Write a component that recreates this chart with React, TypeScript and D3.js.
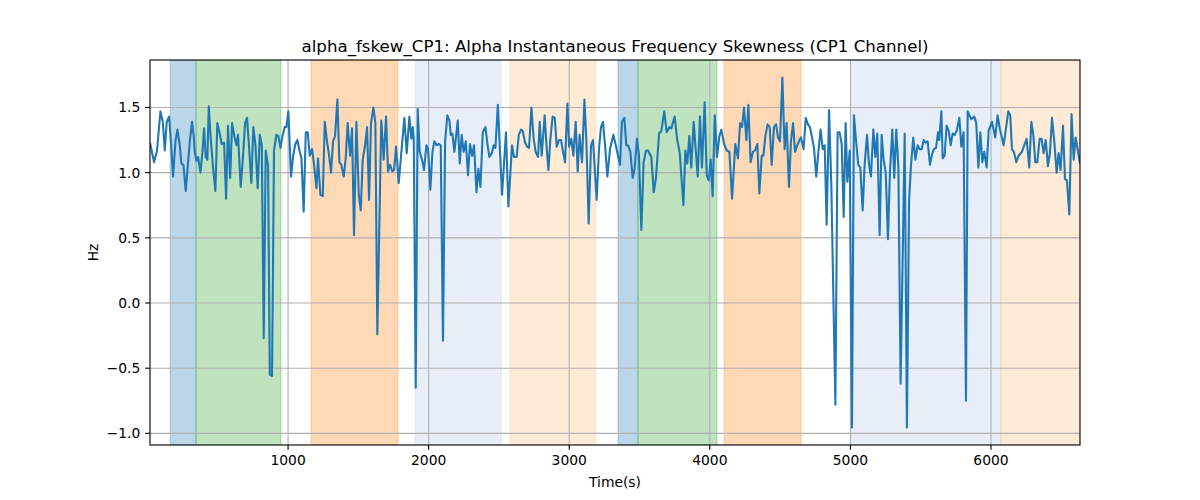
import React from 'react';
import * as d3 from 'd3';

const TITLE = 'alpha_fskew_CP1: Alpha Instantaneous Frequency Skewness (CP1 Channel)';
const X_LABEL = 'Time(s)';
const Y_LABEL = 'Hz';

const TIMES = [
  18, 47, 68, 92, 109, 123, 137, 154, 166, 182, 199, 213, 230, 241, 256, 272, 289, 303, 317, 329,
  336, 348, 360, 377, 391, 403, 414, 426, 436, 450, 467, 483, 497, 514, 528, 545, 559, 573, 588, 602,
  618, 633, 644, 663, 680, 694, 708, 723, 739, 753, 768, 784, 799, 813, 827,
  841, 858, 870, 886, 900, 917, 931, 946, 960, 976, 988, 1002, 1021, 1036, 1052, 1066, 1081, 1095, 1111, 1126,
  1140, 1154, 1171, 1185, 1202, 1213, 1230, 1247, 1261, 1277, 1292, 1306, 1320, 1334, 1351, 1365, 1379, 1396, 1410, 1424,
  1441, 1455, 1469, 1486, 1503, 1517, 1531, 1548, 1562, 1576, 1590, 1607, 1621, 1635, 1663,
  1680, 1697, 1711, 1725, 1742, 1754, 1768, 1787, 1806, 1827, 1844, 1863, 1877, 1887, 1894, 1908, 1922, 1936, 1953, 1967,
  1984, 1996, 2012, 2027, 2041, 2057, 2072, 2086, 2102, 2117, 2133, 2148, 2157, 2169, 2183, 2207, 2221, 2235, 2249, 2264,
  2280, 2294, 2309, 2323, 2340, 2354, 2368, 2385, 2404, 2418, 2432, 2449, 2463, 2475, 2492,
  2522, 2550, 2567, 2593, 2607, 2626, 2641, 2657, 2669, 2686, 2700, 2714, 2731, 2747, 2761, 2778, 2790, 2804, 2825, 2837,
  2852, 2866, 2882, 2897, 2911, 2927, 2942, 2956, 2970, 2987, 2999, 3015, 3029, 3046, 3060, 3074, 3091, 3108, 3122, 3138,
  3155, 3169, 3195, 3212, 3226, 3240, 3257, 3271, 3290, 3314,
  3333, 3361, 3375, 3392, 3406, 3418, 3435, 3451, 3465, 3482, 3496, 3513, 3529, 3546, 3560, 3584, 3601, 3617, 3639, 3655,
  3676, 3693, 3712, 3726, 3750, 3767, 3786, 3812, 3826, 3840, 3854, 3868, 3885, 3914, 3930, 3944, 3963, 3978, 3992, 4006,
  4020, 4035, 4051, 4068, 4082, 4101, 4120, 4139,
  4158, 4181, 4200, 4215, 4229, 4243, 4260, 4274, 4290, 4307, 4321, 4338, 4352, 4369, 4381, 4395, 4411, 4426, 4440, 4456,
  4471, 4485, 4499, 4516, 4532, 4546, 4563, 4577, 4592, 4606, 4622, 4637, 4648, 4667, 4682, 4698, 4712, 4727, 4741, 4757,
  4772, 4788, 4803, 4817, 4831, 4848, 4864, 4893, 4909, 4923, 4938, 4952, 4966,
  4978, 4995, 5011, 5025, 5042, 5056, 5070, 5087, 5101, 5118, 5132, 5146, 5163, 5177, 5191, 5208, 5222, 5236, 5251, 5267,
  5281, 5298, 5312, 5326, 5341, 5357, 5386, 5402, 5417, 5431, 5447, 5462, 5478, 5492, 5507, 5521, 5535, 5549, 5566, 5580,
  5594, 5609, 5623, 5632, 5647, 5656, 5670, 5684, 5699, 5713, 5727, 5741, 5756, 5775, 5789,
  5805, 5822, 5834, 5860, 5881, 5895, 5910, 5924, 5938, 5952, 5969, 5983, 6007, 6030, 6047, 6064, 6090, 6123, 6137, 6149,
  6163, 6180, 6196, 6220, 6253, 6272, 6287, 6301, 6315, 6329, 6346, 6360, 6374, 6389, 6405, 6419, 6434, 6450, 6467, 6481,
  6495, 6512, 6526, 6540, 6557, 6573, 6588, 6602, 6633,
];

const VALUES = [
  1.23, 1.08, 1.17, 1.47, 1.39, 1.17, 1.39, 1.43, 1.25, 0.97, 1.24, 1.33, 1.21, 1.07, 1.06, 0.86, 1.08, 1.26, 1.39, 1.28,
  1.16, 1.09, 1.12, 1.00, 1.16, 1.34, 1.12, 1.10, 1.51, 1.26, 1.03, 0.86, 1.38, 1.30, 1.22, 1.23, 0.80, 1.36, 0.96, 1.38,
  1.28, 1.21, 1.29, 0.89, 1.13, 1.38, 1.42, 1.19, 0.92, 1.35, 1.21, 0.88, 1.29, 1.21, -0.27,
  1.17, 1.05, -0.55, -0.56, 1.17, 1.29, 1.28, 1.19, 1.28, 1.35, 1.35, 1.47, 0.97, 1.13, 1.22, 1.25, 1.17, 1.11, 0.70, 1.31,
  1.31, 1.13, 1.18, 1.06, 0.88, 1.11, 0.83, 0.82, 1.39, 1.24, 1.13, 1.00, 1.24, 1.28, 1.56, 1.08, 1.06, 0.97, 1.11, 1.38,
  1.13, 1.34, 0.52, 1.39, 0.83, 0.71, 1.10, 1.21, 1.35, 0.79, 1.38, 1.50, 1.38, -0.24, 1.40,
  1.10, 1.43, 1.01, 1.06, 1.01, 1.02, 1.20, 0.92, 1.16, 1.42, 1.15, 1.43, 1.26, 1.35, 1.26, -0.65, 1.49, 1.16, 1.10, 1.02,
  1.21, 1.18, 0.87, 1.16, 1.24, 1.21, 1.22, 1.21, -0.29, 1.24, 1.44, 1.40, 1.29, 1.30, 1.16, 1.40, 1.07, 1.29, 1.16, 1.24,
  0.98, 1.22, 1.13, 1.21, 0.85, 1.03, 0.89, 1.31, 1.35, 1.22, 1.12, 1.15, 1.21, 1.19, 1.52,
  0.83, 1.31, 0.74, 1.21, 1.12, 1.12, 1.29, 1.33, 1.32, 1.23, 1.20, 1.19, 1.50, 1.26, 1.16, 1.12, 1.39, 1.13, 1.44, 1.23,
  1.02, 1.26, 1.43, 1.42, 1.20, 1.25, 1.25, 1.16, 1.08, 1.53, 1.20, 1.26, 1.13, 1.39, 1.01, 1.29, 1.08, 1.56, 1.24, 0.61,
  1.21, 1.25, 0.79, 1.19, 1.35, 1.39, 1.18, 0.97, 1.18, 1.29,
  1.20, 1.06, 1.39, 1.42, 1.21, 1.21, 1.16, 0.96, 1.03, 1.26, 1.13, 0.56, 1.08, 1.17, 1.17, 1.12, 0.85, 0.96, 1.30, 1.32,
  1.47, 1.31, 1.35, 1.34, 1.43, 1.26, 1.15, 0.75, 1.17, 1.07, 1.28, 1.04, 1.39, 0.97, 1.43, 1.04, 1.54, 0.98, 0.94, 1.10,
  0.82, 1.44, 1.12, 1.28, 1.33, 1.22, 1.17, 1.16,
  0.80, 1.22, 1.11, 1.38, 1.35, 1.50, 1.25, 1.52, 1.08, 1.16, 1.17, 1.22, 0.84, 1.13, 1.13, 1.28, 1.37, 1.35, 1.06, 1.35,
  1.37, 1.27, 1.24, 1.73, 1.18, 1.38, 0.89, 1.24, 1.38, 1.16, 1.21, 1.25, 1.27, 1.18, 1.42, 1.37, 1.35, 1.27, 1.19, 0.97,
  1.16, 1.33, 1.18, 1.21, 0.60, 1.48, 0.91, -0.78, 1.31, 1.31, 1.22, 0.66, 1.38,
  0.93, 1.17, -0.955, 1.44, 1.22, 1.06, 1.04, 0.71, 1.06, 1.29, 1.07, 0.97, 1.33, 1.12, 1.30, 0.52, 1.29, 1.10, 1.00, 0.49,
  1.00, 1.33, 0.96, 1.33, 1.05, -0.62, 1.30, -0.955, 0.78, 1.06, 1.27, 1.10, 1.21, 1.18, 1.18, 1.25, 1.23, 1.24, 1.06, 1.14,
  1.18, 1.19, 1.31, 1.25, 1.47, 1.11, 1.13, 1.36, 1.32, 1.21, 1.30, 1.29, 1.32, 1.42, 1.20,
  1.31, -0.75, 1.47, 1.41, 1.43, 1.38, 1.04, 1.31, 1.08, 1.16, 1.04, 1.32, 1.39, 1.27, 1.44, 1.33, 1.21, 1.47, 1.44, 1.18,
  1.16, 1.08, 1.13, 1.16, 1.26, 1.04, 1.39, 1.29, 1.08, 1.08, 1.26, 1.26, 1.15, 1.25, 1.05, 1.15, 1.42, 1.24, 1.00, 1.15,
  1.02, 1.36, 0.95, 0.94, 0.68, 1.45, 1.10, 1.27, 1.07,
];

const SPAN_STARTS = [161, 346, 1164, 1903, 2579, 3347, 3489, 4101, 5004, 6071];
const SPAN_ENDS = [346, 950, 1782, 2515, 3190, 3489, 4051, 4649, 6071, 6633];
const SPAN_KINDS = ['blue', 'green', 'orange', 'lightblue', 'lightorange', 'blue', 'green', 'orange', 'lightblue', 'lightorange'];

const X_TICKS = [1000, 2000, 3000, 4000, 5000, 6000];
const Y_TICKS = [-1.0, -0.5, 0.0, 0.5, 1.0, 1.5];

const SPAN_COLORS: Record<string, string> = {
  blue: '#1f77b4',
  green: '#2ca02c',
  orange: '#ff7f0e',
  lightblue: '#aec7e8',
  lightorange: '#ffbb78',
};

const W = 1200;
const H = 500;
const M = { left: 150, right: 120, top: 60, bottom: 55 };
const FONT = '"DejaVu Sans", Verdana, sans-serif';

export default function App() {
  const iw = W - M.left - M.right;
  const ih = H - M.top - M.bottom;

  const x = d3.scaleLinear().domain([TIMES[0], TIMES[TIMES.length - 1]]).range([0, iw]);
  const [vmin, vmax] = d3.extent(VALUES) as [number, number];
  const pad = (vmax - vmin) * 0.05;
  const y = d3.scaleLinear().domain([vmin - pad, vmax + pad]).range([ih, 0]);

  const pts = TIMES.map((t, i) => [t, VALUES[i]] as [number, number]);
  const line = d3
    .line<[number, number]>()
    .x((d) => x(d[0]))
    .y((d) => y(d[1]));

  const fmt = d3.format('.1f');
  const tickLen = 4.86;
  const gridColor = '#b0b0b0';
  const tickFont = 13.89;

  return (
    <svg
      width={W}
      height={H}
      viewBox={`0 0 ${W} ${H}`}
      style={{ position: 'absolute', left: 0, top: 0, background: '#fff' }}
      fontFamily={FONT}
    >
      <rect x={0} y={0} width={W} height={H} fill="#fff" />
      <defs>
        <clipPath id="plotclip">
          <rect x={0} y={0} width={iw} height={ih} />
        </clipPath>
      </defs>
      <g transform={`translate(${M.left},${M.top})`}>
        <g clipPath="url(#plotclip)">
          {SPAN_STARTS.map((s, i) => {
            const x0 = x(s);
            const x1 = x(SPAN_ENDS[i]);
            const c = SPAN_COLORS[SPAN_KINDS[i]];
            return (
              <rect
                key={`span${i}`}
                x={x0}
                y={0}
                width={x1 - x0}
                height={ih}
                fill={c}
                fillOpacity={0.3}
                stroke={c}
                strokeOpacity={0.3}
                strokeWidth={1}
              />
            );
          })}
          {X_TICKS.map((t) => (
            <line key={`gx${t}`} x1={x(t)} x2={x(t)} y1={0} y2={ih} stroke={gridColor} strokeWidth={1.11} />
          ))}
          {Y_TICKS.map((t) => (
            <line key={`gy${t}`} x1={0} x2={iw} y1={y(t)} y2={y(t)} stroke={gridColor} strokeWidth={1.11} />
          ))}
          <path d={line(pts) || ''} fill="none" stroke="#1f77b4" strokeWidth={2.08} strokeLinejoin="round" />
        </g>
        <rect x={0} y={0} width={iw} height={ih} fill="none" stroke="#000" strokeWidth={1.11} />
        {X_TICKS.map((t) => (
          <g key={`tx${t}`} transform={`translate(${x(t)},${ih})`}>
            <line y1={0} y2={tickLen} stroke="#000" strokeWidth={1.11} />
            <text y={20.3} textAnchor="middle" fontSize={tickFont} fill="#000">
              {t}
            </text>
          </g>
        ))}
        {Y_TICKS.map((t) => (
          <g key={`ty${t}`} transform={`translate(0,${y(t)})`}>
            <line x1={0} x2={-tickLen} stroke="#000" strokeWidth={1.11} />
            <text x={-9.7} dy="0.35em" textAnchor="end" fontSize={tickFont} fill="#000">
              {fmt(t)}
            </text>
          </g>
        ))}
        <text x={iw / 2} y={ih + 41.5} textAnchor="middle" fontSize={tickFont} fill="#000">
          {X_LABEL}
        </text>
        <text
          transform={`translate(${-52.5},${ih / 2}) rotate(-90)`}
          textAnchor="middle"
          fontSize={tickFont}
          fill="#000"
        >
          {Y_LABEL}
        </text>
        <text x={iw / 2} y={-8.3} textAnchor="middle" fontSize={16.67} fill="#000">
          {TITLE}
        </text>
      </g>
    </svg>
  );
}
